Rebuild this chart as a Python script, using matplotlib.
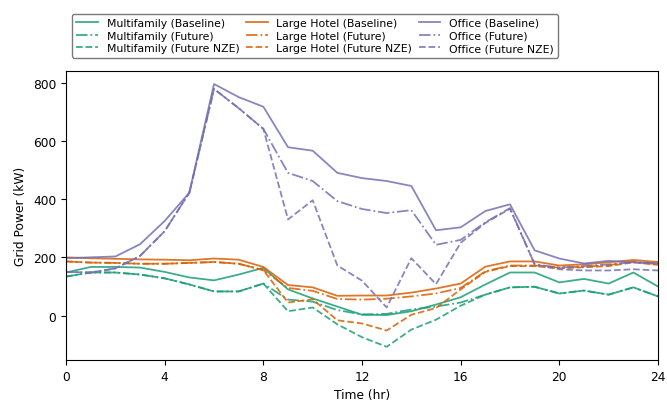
import matplotlib
matplotlib.use("Agg")
import matplotlib.pyplot as plt
import numpy as np

hours = list(range(25))

multifamily_baseline = [148, 167, 167, 165, 150, 131, 121, 141, 164, 90, 59, 31, 3, 2, 15, 38, 63, 107, 148, 148, 114, 126, 110, 148, 100]
multifamily_future = [134, 148, 148, 141, 128, 107, 83, 83, 110, 55, 48, 19, 4, 6, 21, 31, 45, 72, 97, 99, 76, 86, 72, 97, 66]
multifamily_nze = [134, 148, 148, 141, 128, 107, 83, 83, 110, 15, 28, -30, -74, -107, -48, -14, 34, 72, 97, 99, 76, 86, 72, 97, 66]

hotel_baseline = [200, 197, 195, 193, 192, 190, 196, 192, 167, 105, 97, 68, 69, 69, 79, 93, 110, 168, 186, 186, 172, 176, 183, 191, 184]
hotel_future = [186, 182, 181, 178, 178, 181, 184, 178, 156, 95, 85, 57, 55, 58, 66, 76, 95, 152, 172, 172, 165, 168, 173, 185, 176]
hotel_nze = [186, 182, 181, 178, 178, 181, 184, 178, 156, 45, 56, -16, -27, -51, 3, 26, 90, 150, 170, 170, 162, 166, 170, 183, 174]

office_baseline = [197, 200, 203, 245, 325, 422, 795, 750, 717, 578, 566, 490, 472, 462, 445, 293, 303, 359, 382, 224, 196, 179, 188, 183, 180]
office_future = [150, 148, 162, 205, 290, 422, 778, 712, 641, 490, 462, 393, 366, 352, 362, 243, 260, 320, 369, 176, 165, 170, 176, 183, 179]
office_nze = [150, 148, 162, 205, 290, 422, 778, 712, 641, 330, 396, 172, 120, 28, 197, 108, 250, 318, 367, 176, 159, 155, 155, 159, 155]

buildings = ["Multifamily", "Large Hotel", "Office"]
scenarios = ["Baseline", "Future", "Future NZE"]
styles = ["-", "-.", "--"]
colors = ["#1b9e77", "#d95f02", "#7570b3"]
series = [
    [multifamily_baseline, multifamily_future, multifamily_nze],
    [hotel_baseline, hotel_future, hotel_nze],
    [office_baseline, office_future, office_nze],
]

plt.rcParams["font.size"] = 8.8

fig = plt.figure(figsize=(6.67, 4.06), dpi=100)
ax = fig.add_axes([0.099, 0.111, 0.8875, 0.712])

for name, color, group in zip(buildings, colors, series):
    for scen, ls, vals in zip(scenarios, styles, group):
        ax.plot(hours, vals, ls, color=color, lw=1.3, alpha=0.85,
                label=f"{name} ({scen})")

ax.set_xlim(0, 24)
ax.set_xticks(range(0, 25, 4))
ax.set_yticks(range(0, 801, 200))
ax.set_xlabel("Time (hr)")
ax.set_ylabel("Grid Power (kW)")

leg = fig.legend(loc="lower center", bbox_to_anchor=(315 / 667, 1 - 64 / 406),
                 ncol=3, frameon=True, fontsize=7.8, columnspacing=0.6,
                 handlelength=2.0, handletextpad=0.8,
                 labelspacing=0.25, borderpad=0.4)
leg.get_frame().set_edgecolor("0.35")

fig.savefig("out.png", dpi=100)
